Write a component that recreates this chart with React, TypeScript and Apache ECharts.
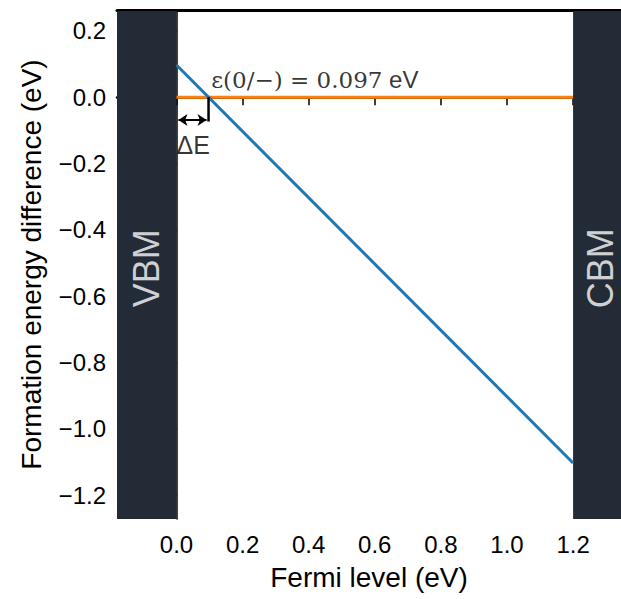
import React, { useEffect, useRef } from "react";
import * as echarts from "echarts";

const xTicks = [0, 0.2, 0.4, 0.6, 0.8, 1.0, 1.2];
const yTicks = [0.2, 0, -0.2, -0.4, -0.6, -0.8, -1.0, -1.2];
const xRange = [-0.18, 1.345];
const yRange = [-1.272, 0.263];
const vbm = 0.0;
const cbm = 1.2;
const transitionLevel = 0.097;
const diffLine = [
  [0, 0.097],
  [1.2, -1.103],
];
const zeroLine = [
  [0, 0],
  [1.2, 0],
];
const bandLabels = ["VBM", "CBM"];
const bandLabelX = [-0.09, 1.284];
const bandLabelY = -0.516;
const FONT = "Liberation Sans";

export default function App() {
  const ref = useRef<HTMLDivElement>(null);
  useEffect(() => {
    document.body.style.margin = "0";
    const chart = echarts.init(ref.current!, null, { renderer: "svg" });
    const fmt = (v: number) => v.toFixed(1).replace("-", "\u2212");
    chart.setOption({
      animation: false,
      textStyle: { fontFamily: FONT },
      grid: { left: 117, right: 0, top: 10, bottom: 80 },
      xAxis: [
        {
          type: "value",
          min: xRange[0],
          max: xRange[1],
          name: "Fermi level (eV)",
          nameLocation: "middle",
          nameGap: 44,
          nameTextStyle: { fontSize: 28, color: "#000", fontFamily: FONT },
          splitLine: { show: false },
          axisLine: { show: true, lineStyle: { color: "#000", width: 2.5 } },
          axisTick: {
            show: true,
            length: 8,
            inside: false,
            lineStyle: { color: "#000", width: 1.5 },
            customValues: xTicks,
          },
          axisLabel: {
            fontSize: 24,
            color: "#000",
            margin: 13,
            customValues: xTicks,
            formatter: fmt,
          },
        },
        {
          type: "value",
          position: "top",
          min: xRange[0],
          max: xRange[1],
          splitLine: { show: false },
          axisLine: { show: true, lineStyle: { color: "#000", width: 3 } },
          axisTick: { show: false },
          axisLabel: { show: false },
        },
      ],
      yAxis: {
        type: "value",
        min: yRange[0],
        max: yRange[1],
        name: "Formation energy difference (eV)",
        nameLocation: "middle",
        nameGap: 72,
        nameTextStyle: { fontSize: 28, color: "#000", fontFamily: FONT },
        splitLine: { show: false },
        axisLine: { show: true, lineStyle: { color: "#000", width: 1.5 } },
        axisTick: {
          show: true,
          length: 8,
          lineStyle: { color: "#000", width: 1.5 },
          customValues: yTicks,
        },
        axisLabel: {
          fontSize: 24,
          color: "#000",
          margin: 11,
          customValues: yTicks,
          formatter: fmt,
        },
      },
      series: [
        {
          type: "line",
          data: zeroLine,
          symbol: "none",
          lineStyle: { color: "#ff7f0e", width: 3 },
          z: 2,
        },
        {
          type: "line",
          data: diffLine,
          symbol: "none",
          lineStyle: { color: "#1f77b4", width: 3 },
          z: 3,
        },
        {
          type: "line",
          data: [
            [transitionLevel, 0],
            [transitionLevel, -0.073],
          ],
          symbol: "none",
          lineStyle: { color: "#000", width: 2.5 },
          z: 4,
          markLine: {
            silent: true,
            symbol: ["arrow", "arrow"],
            symbolSize: [9, 9],
            label: { show: false },
            lineStyle: { color: "#000", width: 2, type: "solid" },
            data: [
              [
                { coord: [0.006, -0.069] },
                { coord: [transitionLevel - 0.006, -0.069] },
              ],
            ],
          },
        },
        {
          type: "scatter",
          symbolSize: 0,
          z: 10,
          data: [
            {
              value: [0.105, 0.052],
              label: {
                show: true,
                position: "right",
                distance: 0,
                formatter: "{a|\u03b5(0/\u2212) = " + transitionLevel.toFixed(3) + "}{b| eV}",
                rich: {
                  a: { fontFamily: "DejaVu Serif", fontSize: 23, color: "#000" },
                  b: { fontFamily: FONT, fontSize: 24, color: "#000" },
                },
              },
            },
            {
              value: [0.0, -0.145],
              label: {
                show: true,
                position: "right",
                distance: 0,
                formatter: "\u0394E",
                fontSize: 25,
                color: "#000",
                fontFamily: FONT,
              },
            },
          ],
        },
        {
          type: "scatter",
          symbolSize: 0,
          z: 12,
          data: bandLabels.map((name, i) => ({
            value: [bandLabelX[i], bandLabelY],
            label: {
              show: true,
              position: "inside",
              formatter: name,
              rotate: 90,
              fontSize: 36,
              color: "#fff",
              fontFamily: FONT,
            },
          })),
        },
        {
          type: "line",
          data: [],
          z: 8,
          markArea: {
            silent: true,
            itemStyle: { color: "#232b36", opacity: 1 },
            data: [
              [{ coord: [xRange[0], yRange[1] - 0.003] }, { coord: [vbm, yRange[0]] }],
              [{ coord: [cbm, yRange[1] - 0.003] }, { coord: [xRange[1], yRange[0]] }],
            ],
          },
        },
      ],
    });
    return () => chart.dispose();
  }, []);
  return (
    <div
      ref={ref}
      style={{ position: "absolute", left: 0, top: 0, width: 621, height: 599 }}
    />
  );
}
